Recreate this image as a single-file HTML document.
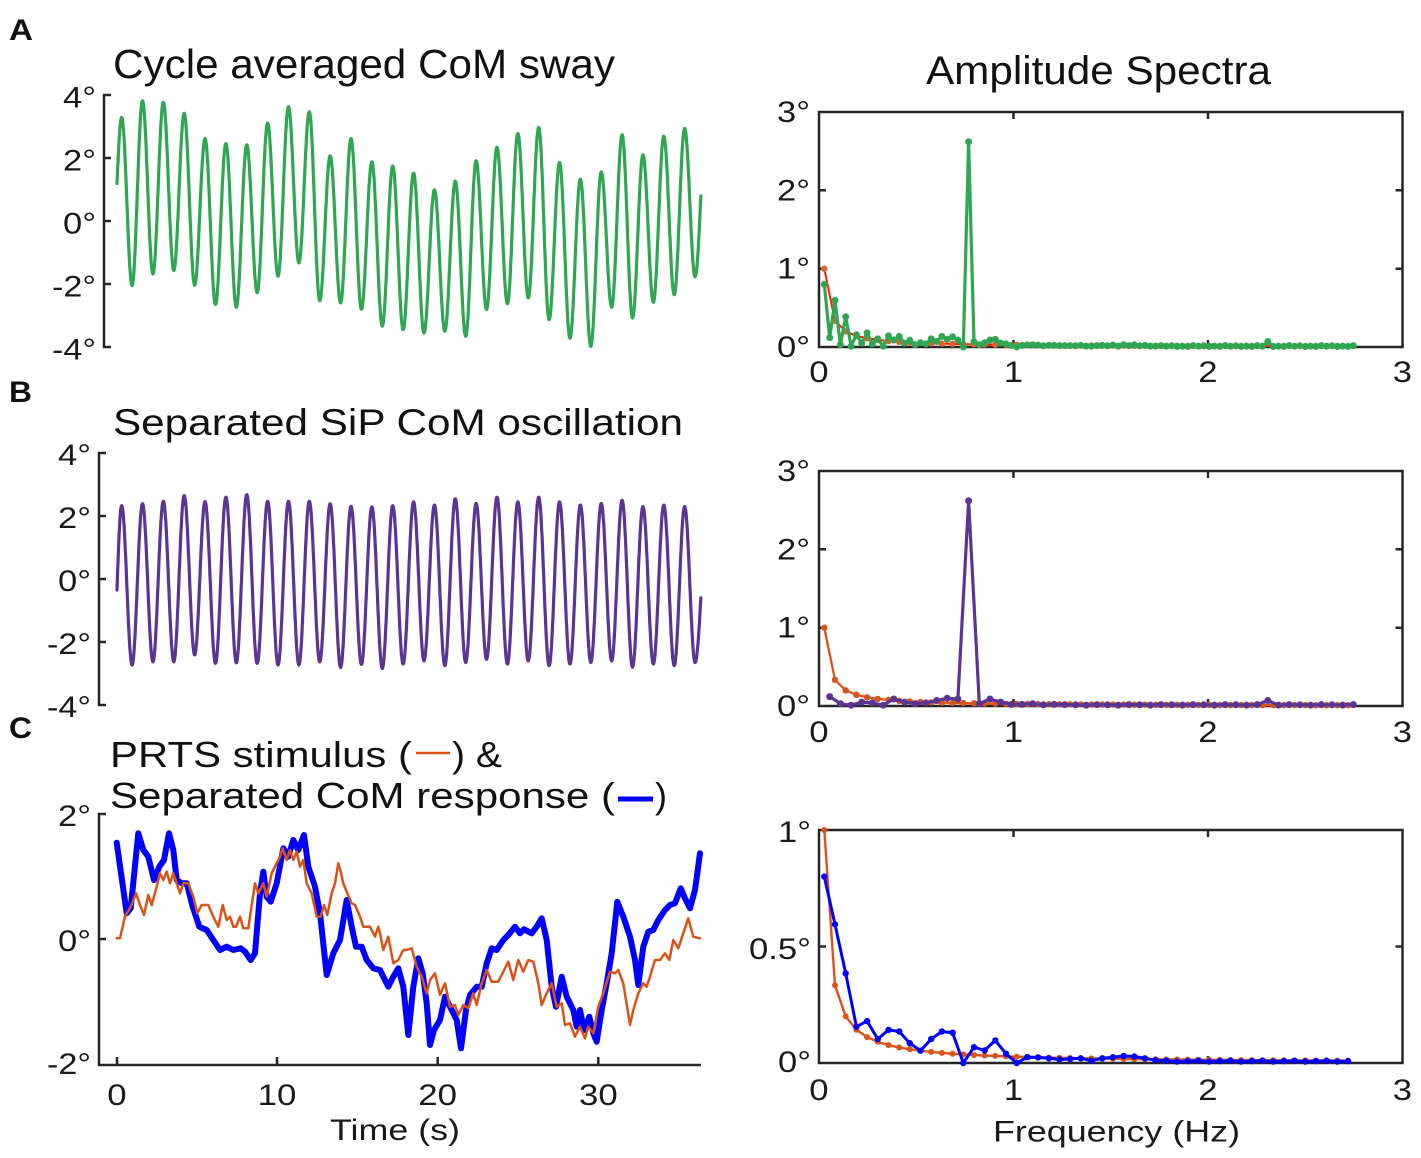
<!DOCTYPE html>
<html><head><meta charset="utf-8">
<style>
html,body{margin:0;padding:0;background:#fff;width:1421px;height:1158px;overflow:hidden;}
svg{display:block;}
text{font-family:"Liberation Sans",Arial,sans-serif;fill:#111;}
.t{font-size:30px;fill:#1a1a1a;}
</style></head>
<body>
<svg id="s" width="1421" height="1158" viewBox="0 0 1421 1158" xmlns="http://www.w3.org/2000/svg">
<rect width="1421" height="1158" fill="#fff"/>

<text x="9" y="40" font-size="30" font-weight="bold" textLength="24" lengthAdjust="spacingAndGlyphs">A</text>
<text x="9" y="402" font-size="30" font-weight="bold" textLength="23" lengthAdjust="spacingAndGlyphs">B</text>
<text x="9" y="738" font-size="30" font-weight="bold" textLength="23" lengthAdjust="spacingAndGlyphs">C</text>

<text x="113" y="78" font-size="41" textLength="502" lengthAdjust="spacingAndGlyphs">Cycle averaged CoM sway</text>
<text x="113" y="435" font-size="37" textLength="570" lengthAdjust="spacingAndGlyphs">Separated SiP CoM oscillation</text>
<text x="110" y="767" font-size="36" textLength="302" lengthAdjust="spacingAndGlyphs">PRTS stimulus (</text>
<line x1="416" y1="753" x2="450" y2="753" stroke="#d95319" stroke-width="2.5"/>
<text x="452" y="767" font-size="36" textLength="50" lengthAdjust="spacingAndGlyphs">) &amp;</text>
<text x="110" y="808" font-size="36" textLength="505" lengthAdjust="spacingAndGlyphs">Separated CoM response (</text>
<line x1="618" y1="799" x2="653" y2="799" stroke="#0000ff" stroke-width="5"/>
<text x="655" y="808" font-size="36" textLength="12" lengthAdjust="spacingAndGlyphs">)</text>
<text x="926" y="84" font-size="40" textLength="345" lengthAdjust="spacingAndGlyphs">Amplitude Spectra</text>

<!-- left axes -->
<g fill="none" stroke="#262626" stroke-width="2.5">
<path d="M111,95 H104 V347 H111 M104,158 H111 M104,221 H111 M104,284 H111"/>
<path d="M106,453 H99 V705 H106 M99,516 H106 M99,579 H106 M99,642 H106"/>
<path d="M106,814 H99 V1065 H701 M99,939 H106 M117,1065 V1057 M277,1065 V1057 M437.7,1065 V1057 M598.3,1065 V1057"/>
</g>
<!-- left labels A -->
<text class="t" x="63" y="107.5" textLength="33" lengthAdjust="spacingAndGlyphs">4°</text>
<text class="t" x="63" y="170.5" textLength="33" lengthAdjust="spacingAndGlyphs">2°</text>
<text class="t" x="63" y="233.5" textLength="33" lengthAdjust="spacingAndGlyphs">0°</text>
<text class="t" x="52" y="296.5" textLength="44" lengthAdjust="spacingAndGlyphs">-2°</text>
<text class="t" x="52" y="359.5" textLength="44" lengthAdjust="spacingAndGlyphs">-4°</text>
<!-- B -->
<text class="t" x="58" y="465" textLength="33" lengthAdjust="spacingAndGlyphs">4°</text>
<text class="t" x="58" y="528" textLength="33" lengthAdjust="spacingAndGlyphs">2°</text>
<text class="t" x="58" y="591" textLength="33" lengthAdjust="spacingAndGlyphs">0°</text>
<text class="t" x="47" y="654" textLength="44" lengthAdjust="spacingAndGlyphs">-2°</text>
<text class="t" x="47" y="717" textLength="44" lengthAdjust="spacingAndGlyphs">-4°</text>
<!-- C -->
<text class="t" x="58" y="826" textLength="33" lengthAdjust="spacingAndGlyphs">2°</text>
<text class="t" x="58" y="951" textLength="33" lengthAdjust="spacingAndGlyphs">0°</text>
<text class="t" x="47" y="1074" textLength="44" lengthAdjust="spacingAndGlyphs">-2°</text>
<text class="t" x="107.3" y="1105" textLength="19.3" lengthAdjust="spacingAndGlyphs">0</text>
<text class="t" x="257.7" y="1105" textLength="38.7" lengthAdjust="spacingAndGlyphs">10</text>
<text class="t" x="418.3" y="1105" textLength="38.7" lengthAdjust="spacingAndGlyphs">20</text>
<text class="t" x="579" y="1105" textLength="38.7" lengthAdjust="spacingAndGlyphs">30</text>
<text class="t" x="330" y="1140" textLength="130" lengthAdjust="spacingAndGlyphs">Time (s)</text>

<!-- right boxes -->
<g fill="none" stroke="#262626" stroke-width="2.5">
<rect x="819" y="112" width="583.5" height="235"/>
<path d="M1013.5,347 V340 M1208,347 V340 M1013.5,112 V119 M1208,112 V119 M819,190.3 H826 M819,268.7 H826 M1402.5,190.3 H1395.5 M1402.5,268.7 H1395.5"/>
<rect x="819" y="471" width="583.5" height="235"/>
<path d="M1013.5,706 V699 M1208,706 V699 M1013.5,471 V478 M1208,471 V478 M819,549.3 H826 M819,627.7 H826 M1402.5,549.3 H1395.5 M1402.5,627.7 H1395.5"/>
<rect x="819" y="830" width="583.5" height="233"/>
<path d="M1013.5,1063 V1056 M1208,1063 V1056 M1013.5,830 V837 M1208,830 V837 M819,946.5 H826 M1402.5,946.5 H1395.5"/>
</g>
<!-- right labels -->
<text class="t" x="777" y="122" textLength="33" lengthAdjust="spacingAndGlyphs">3°</text>
<text class="t" x="777" y="200.3" textLength="33" lengthAdjust="spacingAndGlyphs">2°</text>
<text class="t" x="777" y="278.7" textLength="33" lengthAdjust="spacingAndGlyphs">1°</text>
<text class="t" x="777" y="357" textLength="33" lengthAdjust="spacingAndGlyphs">0°</text>
<text class="t" x="809.3" y="382" textLength="19.3" lengthAdjust="spacingAndGlyphs">0</text>
<text class="t" x="1003.8" y="382" textLength="19.3" lengthAdjust="spacingAndGlyphs">1</text>
<text class="t" x="1198.3" y="382" textLength="19.3" lengthAdjust="spacingAndGlyphs">2</text>
<text class="t" x="1392.8" y="382" textLength="19.3" lengthAdjust="spacingAndGlyphs">3</text>

<text class="t" x="777" y="481" textLength="33" lengthAdjust="spacingAndGlyphs">3°</text>
<text class="t" x="777" y="559.3" textLength="33" lengthAdjust="spacingAndGlyphs">2°</text>
<text class="t" x="777" y="637.7" textLength="33" lengthAdjust="spacingAndGlyphs">1°</text>
<text class="t" x="777" y="716" textLength="33" lengthAdjust="spacingAndGlyphs">0°</text>
<text class="t" x="809.3" y="742" textLength="19.3" lengthAdjust="spacingAndGlyphs">0</text>
<text class="t" x="1003.8" y="742" textLength="19.3" lengthAdjust="spacingAndGlyphs">1</text>
<text class="t" x="1198.3" y="742" textLength="19.3" lengthAdjust="spacingAndGlyphs">2</text>
<text class="t" x="1392.8" y="742" textLength="19.3" lengthAdjust="spacingAndGlyphs">3</text>

<text class="t" x="778" y="842" textLength="33" lengthAdjust="spacingAndGlyphs">1°</text>
<text class="t" x="749" y="959" textLength="62" lengthAdjust="spacingAndGlyphs">0.5°</text>
<text class="t" x="778" y="1072" textLength="33" lengthAdjust="spacingAndGlyphs">0°</text>
<text class="t" x="809.3" y="1100" textLength="19.3" lengthAdjust="spacingAndGlyphs">0</text>
<text class="t" x="1003.8" y="1100" textLength="19.3" lengthAdjust="spacingAndGlyphs">1</text>
<text class="t" x="1198.3" y="1100" textLength="19.3" lengthAdjust="spacingAndGlyphs">2</text>
<text class="t" x="1392.8" y="1100" textLength="19.3" lengthAdjust="spacingAndGlyphs">3</text>
<text class="t" x="993" y="1141.7" textLength="247" lengthAdjust="spacingAndGlyphs">Frequency (Hz)</text>

<g id="data"></g>
</svg>
<script>
(function(){
const NS="http://www.w3.org/2000/svg";
const g=document.getElementById('data');
function el(tag,attrs){const e=document.createElementNS(NS,tag);for(const k in attrs)e.setAttribute(k,attrs[k]);g.appendChild(e);return e;}
function poly(pts,color,w){el('polyline',{points:pts.map(p=>p[0].toFixed(1)+','+p[1].toFixed(1)).join(' '),fill:'none',stroke:color,'stroke-width':w,'stroke-linejoin':'round','stroke-linecap':'round'});}
function dots(pts,color,r){pts.forEach(p=>el('circle',{cx:p[0].toFixed(1),cy:p[1].toFixed(1),r:r,fill:color}));}

const X=t=>117+16.04*t;
function wave(v0,peaks,troughs,tp0,T,vend,tend){
  const ext=[];
  for(let i=0;i<peaks.length;i++){ext.push([tp0+T*i,peaks[i]]);ext.push([tp0+T*i+T/2,troughs[i]]);}
  const f=t=>{
    if(t<=ext[0][0]){const s=t/ext[0][0];return v0+(ext[0][1]-v0)*Math.sin(Math.PI/2*s);}
    const L=ext[ext.length-1];
    if(t>=L[0]){const s=(t-L[0])/(tend-L[0]);return L[1]+(vend-L[1])*(1-Math.cos(Math.PI/2*s));}
    for(let i=0;i<ext.length-1;i++){if(t>=ext[i][0]&&t<=ext[i+1][0]){const s=(t-ext[i][0])/(ext[i+1][0]-ext[i][0]);return ext[i][1]+(ext[i+1][1]-ext[i][1])*(1-Math.cos(Math.PI*s))/2;}}
    return 0;
  };
  const pts=[];for(let t=0;t<=tend+1e-9;t+=0.02)pts.push([t,f(t)]);
  return pts;
}
const gp=[3.29,3.82,3.77,3.42,2.62,2.46,2.42,3.11,3.63,3.47,2.07,2.62,1.88,1.75,1.52,0.99,1.27,1.91,2.34,2.78,2.97,1.86,1.33,1.56,2.74,2.10,2.69,2.94];
const gt=[-2.05,-1.68,-1.57,-2.04,-2.65,-2.74,-2.28,-1.75,-1.33,-2.53,-2.6,-2.8,-3.34,-3.45,-3.56,-3.5,-3.66,-2.81,-2.63,-2.44,-3.13,-3.72,-3.98,-2.74,-3.08,-2.58,-2.34,-1.77];
const GREEN="#2fa651",PURP="#5c3494",OR="#d95319",BLUE="#0000ff";
poly(wave(1.19,gp,gt,0.29,1.3,0.8,36.4).map(p=>[X(p[0]),221-31.5*p[1]]),GREEN,3.2);
const pp=[2.33,2.39,2.47,2.65,2.46,2.6,2.68,2.47,2.47,2.47,2.39,2.31,2.29,2.33,2.45,2.35,2.55,2.4,2.6,2.45,2.6,2.45,2.35,2.4,2.5,2.3,2.35,2.3];
const pt=[-2.73,-2.63,-2.63,-2.41,-2.68,-2.66,-2.68,-2.73,-2.73,-2.63,-2.81,-2.71,-2.84,-2.7,-2.6,-2.75,-2.65,-2.55,-2.7,-2.6,-2.75,-2.7,-2.65,-2.6,-2.8,-2.7,-2.75,-2.65];
poly(wave(-0.35,pp,pt,0.29,1.3,-0.6,36.4).map(p=>[X(p[0]),579-31.5*p[1]]),PURP,3.2);

const b4=[[350,368],[380,580],[392,565],[415,340],[430,390],[445,410],[462,480],[478,440],[492,420],[507,340],[520,390],[530,480],[545,490],[560,490],[578,560],[598,620],[620,630],[640,660],[660,690],[680,680],[700,690],[722,685],[735,695],[752,720],[765,700],[780,520],[790,455],[800,530],[812,545],[830,490],[850,385],[865,410],[880,360],[895,390],[912,345],[925,440],[945,500],[960,580],[980,765],[1000,700],[1020,660],[1040,540],[1055,620],[1068,680],[1085,680],[1100,720],[1120,745],[1140,750]];
const b9=[[25,800],[40,770],[55,745],[70,800],[85,945],[100,800],[115,715],[128,760],[140,850],[150,975],[162,930],[180,900],[195,830],[215,870],[230,900],[243,985],[258,870],[270,825],[290,800],[305,800],[320,730],[335,685],[350,690],[370,660],[385,645],[405,620],[420,640],[432,628],[455,640],[470,620],[485,595],[500,660],[515,800],[528,860],[545,770],[560,830],[580,870],[590,920],[600,870],[612,930],[628,890],[640,940],[650,965],[665,870],[680,790],[695,700],[712,545],[730,590],[750,650],[765,720],[775,795],[790,680],[805,635],[820,630],[835,600],[855,570],[870,555],[885,550],[902,505],[915,535],[930,565],[945,510],[960,400]];
const blue=b4.map(p=>[p[0]/3,720+p[1]/3]).concat(b9.map(p=>[380+p[0]/3,720+p[1]/3]));
poly(blue,BLUE,6);
const o4=[[350,655],[360,655],[375,590],[392,560],[408,520],[420,555],[432,585],[445,525],[455,555],[470,500],[480,460],[490,480],[500,455],[510,490],[520,460],[540,520],[550,490],[565,490],[580,530],[592,580],[605,555],[625,555],[640,590],[655,620],[668,555],[680,600],[690,590],[700,620],[708,620],[720,590],[730,625],[745,625],[755,555],[765,490],[775,520],[790,490],[800,530],[815,460],[825,440],[840,410],[848,385],[860,420],[870,390],[880,420],[890,395],[900,440],[910,420],[920,490],[935,520],[950,590],[962,590],[972,555],[982,585],[995,520],[1005,490],[1015,430],[1022,455],[1030,490],[1040,515],[1055,550],[1065,555],[1080,590],[1090,620],[1110,620],[1125,650],[1135,620]];
const o9=[[0,640],[10,690],[25,650],[40,730],[55,720],[70,690],[80,690],[95,685],[110,740],[125,770],[140,820],[150,780],[165,760],[180,825],[195,790],[210,860],[225,855],[235,885],[250,855],[265,865],[280,820],[290,855],[305,790],[320,750],[335,785],[355,785],[370,755],[385,725],[400,780],[415,720],[430,755],[445,720],[460,725],[475,790],[485,855],[500,820],[515,790],[530,860],[545,850],[555,915],[570,910],[585,950],[600,920],[615,955],[625,920],[640,940],[655,860],[670,820],[690,755],[705,760],[715,750],[730,790],[750,915],[760,870],[775,820],[790,790],[800,800],[810,770],[825,720],[840,720],[855,700],[868,720],[880,660],[895,685],[910,640],[925,595],[940,650],[960,655]];
const orange=o4.map(p=>[p[0]/3,720+p[1]/3]).concat(o9.map(p=>[380+p[0]/3,720+p[1]/3]));
poly(orange,OR,2.5);

const F=f=>819+f*194.5, TP=36.4;
const blueOdd=[0.80,0.595,0.385,0.156,0.18,0.103,0.142,0.135,0.085,0.053,0.103,0.135,0.13,0.0,0.068,0.054,0.097,0.04,0.0,0.025,0.024,0.02,0.015,0.017,0.02,0.01,0.02,0.025,0.03,0.028,0.02,0.012];
while(blueOdd.length<50){const k=blueOdd.length;blueOdd.push(0.006+0.004*((k*7)%3)/2);}
const purpEven=[0.12,0.03,0.01,0.05,0.04,0.01,0.09,0.05,0.03,0.04,0.07,0.1,0.09,2.62,0.03,0.09,0.05,0.02,0.02,0.03,0.015,0.02];
while(purpEven.length<50){const k=purpEven.length;purpEven.push(0.012+0.006*((k*5)%3)/2);}
purpEven[41]=0.07;
const orOdd=[];for(let k=0;k<50;k++)orOdd.push(1/(2*k+1));
function spec(vals,nStart,step,y0,sc){const r=[];for(let i=0;i<vals.length;i++){const n=nStart+step*i;r.push([F(n/TP),y0-sc*vals[i]]);}return r;}
const green=[];for(let n=1;n<=100;n++){green.push(n%2?blueOdd[(n-1)/2]:purpEven[n/2-1]);}
const aO=spec(orOdd,1,2,347,78.33);
poly(aO,"#ff1a00",2);dots(aO,"#e0602a",3.2);
const aG=spec(green,1,1,347,78.33);
poly(aG,GREEN,3.2);dots(aG,GREEN,3.5);
const bO=spec(orOdd,1,2,706,78.33);
poly(bO,OR,2.3);dots(bO,OR,3.2);
const bP=spec(purpEven,2,2,706,78.33);
poly(bP,PURP,3.2);dots(bP,PURP,3.5);
const cO=spec(orOdd,1,2,1063,233);
poly(cO,OR,2.4);dots(cO,OR,3);
const cB=spec(blueOdd,1,2,1063,233);
poly(cB,BLUE,3);dots(cB,BLUE,3.2);
})();
</script>
</body></html>
